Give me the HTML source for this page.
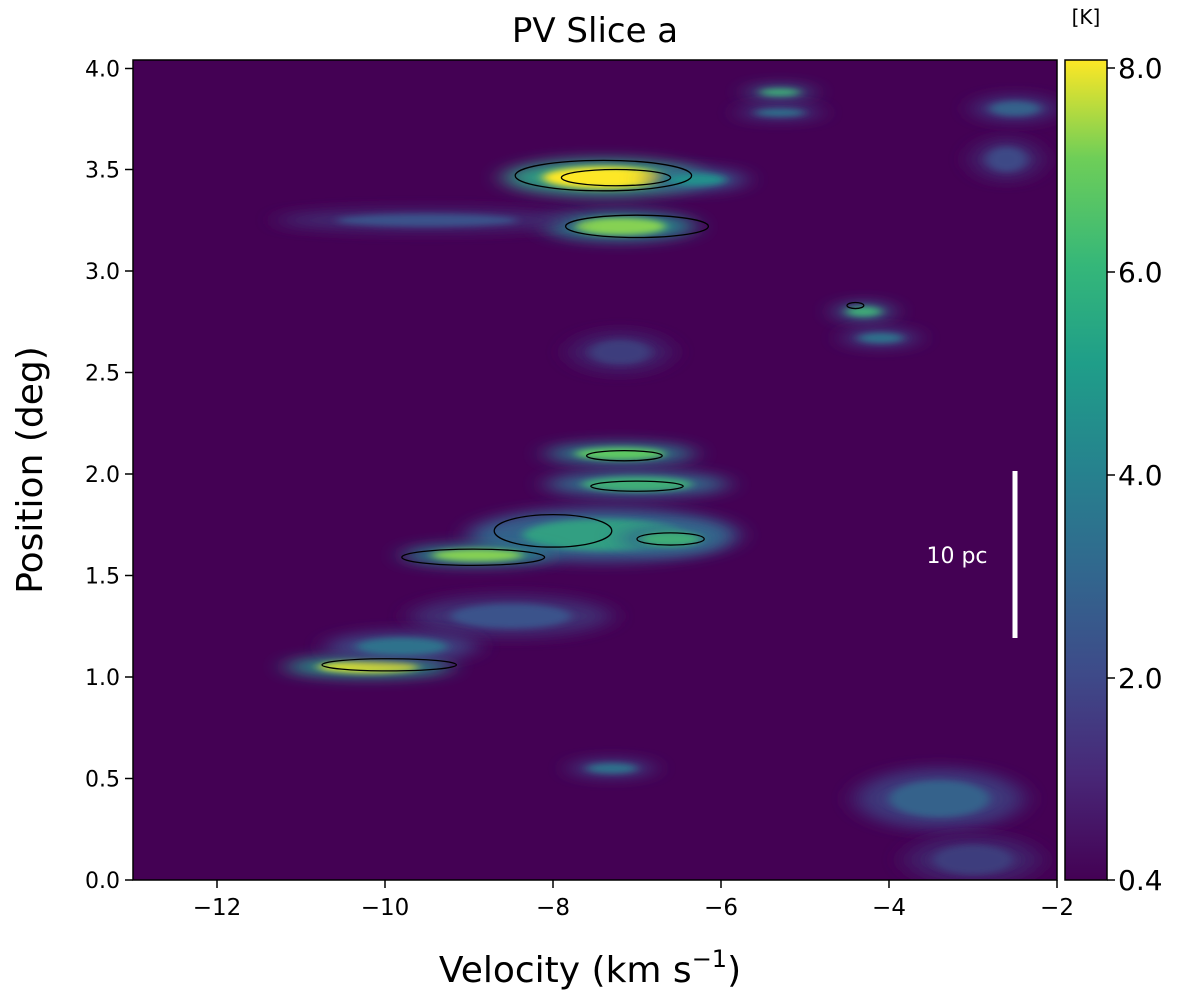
<!DOCTYPE html>
<html><head><meta charset="utf-8"><style>
body{margin:0;background:#fff;}
svg{font-family:"DejaVu Sans","Liberation Sans",sans-serif;}
</style></head><body>
<svg id="chart" width="1200" height="1002" viewBox="0 0 1200 1002">
<defs>
<filter id="blur1" x="-100%" y="-300%" width="300%" height="700%"><feGaussianBlur stdDeviation="12 7"/></filter>
<filter id="blur2" x="-100%" y="-300%" width="300%" height="700%"><feGaussianBlur stdDeviation="5 3"/></filter>
<linearGradient id="viridis" x1="0" y1="1" x2="0" y2="0">
<stop offset="0" stop-color="#440154"/><stop offset="0.13" stop-color="#482878"/>
<stop offset="0.25" stop-color="#3e4a89"/><stop offset="0.38" stop-color="#31688e"/>
<stop offset="0.5" stop-color="#26828e"/><stop offset="0.63" stop-color="#1f9e89"/>
<stop offset="0.75" stop-color="#35b779"/><stop offset="0.88" stop-color="#6ece58"/>
<stop offset="1" stop-color="#fde725"/></linearGradient>
<clipPath id="plotclip"><rect x="133" y="60" width="924" height="820"/></clipPath>
</defs>
<text x="595" y="42" font-size="34" text-anchor="middle">PV Slice a</text>
<rect x="133" y="60" width="924" height="820" fill="#440154"/>
<g id="clouds" clip-path="url(#plotclip)"></g>
<g id="contours" clip-path="url(#plotclip)"></g>
<rect x="133" y="60" width="924" height="820" fill="none" stroke="#000" stroke-width="1.5"/>
<g id="xticks"></g>
<g id="yticks"></g>
<text x="590" y="982" font-size="36" text-anchor="middle">Velocity (km s<tspan dy="-15" font-size="24">−1</tspan><tspan dy="15">)</tspan></text>
<text transform="translate(42,470) rotate(-90)" font-size="36" text-anchor="middle">Position (deg)</text>
<line x1="1015" y1="471" x2="1015" y2="638" stroke="#fff" stroke-width="5"/>
<text x="957" y="563" font-size="22" fill="#fff" text-anchor="middle">10 pc</text>
<rect x="1065" y="60" width="42" height="820" fill="url(#viridis)" stroke="#000" stroke-width="1.5"/>
<text x="1086" y="24" font-size="20" text-anchor="middle">[K]</text>
<g id="cbticks"></g>
</svg>
<script>
const xTicks=[-12,-10,-8,-6,-4,-2];
const yTicks=[0.0,0.5,1.0,1.5,2.0,2.5,3.0,3.5,4.0];
const cbLabels=["8.0","6.0","4.0","2.0","0.4"];
const cbValues=[8,6,4,2,0.4];
// clouds: velocity center, position center, velocity half-width, position half-width, peak K
const cloudV=[-7.4,-7.2,-9.5,-5.3,-5.3,-2.5,-4.3,-4.1,-7.2,-7.2,-7.0,-7.4,-8.9,-6.6,-8.5,-10.2,-9.8,-7.3,-3.4,-3.0,-6.3,-2.6];
const cloudP=[3.46,3.22,3.25,3.88,3.78,3.80,2.80,2.67,2.60,2.10,1.95,1.70,1.60,1.68,1.30,1.05,1.15,0.55,0.40,0.10,3.45,3.55];
const cloudW=[1.2,0.9,1.8,0.4,0.5,0.5,0.35,0.45,0.6,0.9,1.1,1.6,0.9,0.6,1.2,1.0,0.9,0.5,1.0,0.8,0.6,0.4];
const cloudH=[0.09,0.07,0.05,0.03,0.03,0.06,0.04,0.04,0.10,0.05,0.06,0.13,0.05,0.06,0.10,0.05,0.07,0.04,0.15,0.12,0.05,0.1];
const cloudK=[8,6.5,2,5,3,2.5,5,3,1.5,6,5,4.5,6.5,5,2,7.5,3,3,2.5,1.5,4,1.8];
// contours: velocity center, position center, half widths
const ctrV=[-7.4,-7.25,-7.0,-9.95,-8.95,-7.15,-7.0,-6.6,-8.0,-4.4];
const ctrP=[3.47,3.46,3.22,1.06,1.59,2.09,1.94,1.68,1.72,2.83];
const ctrW=[1.05,0.65,0.85,0.8,0.85,0.45,0.55,0.4,0.7,0.1];
const ctrH=[0.075,0.04,0.055,0.03,0.04,0.025,0.025,0.03,0.08,0.015];

const X0=133,X1=1057,VMIN=-13,VMAX=-2,Y0=880,PMIN=0,PPX=203;
const xs=v=>X0+(v-VMIN)/(VMAX-VMIN)*(X1-X0);
const ys=p=>Y0-(p-PMIN)*PPX;
const cbY=[68,272,475,678,880];
function viridis(t){const c=[[68,1,84],[59,82,139],[33,145,140],[94,201,98],[253,231,37]];t=Math.max(0,Math.min(1,t))*4;const i=Math.min(3,Math.floor(t)),f=t-i;const a=c[i],b=c[i+1];return `rgb(${a.map((x,k)=>Math.round(x+(b[k]-x)*f)).join(',')})`;}
const NS="http://www.w3.org/2000/svg";
const mk=(t,at,parent)=>{const e=document.createElementNS(NS,t);for(const k in at)e.setAttribute(k,at[k]);parent.appendChild(e);return e;};
const cg=document.getElementById('clouds');
cloudV.forEach((v,i)=>{
 const k=cloudK[i];
 const outer=mk('ellipse',{cx:xs(v),cy:ys(cloudP[i]),rx:cloudW[i]/(VMAX-VMIN)*924,ry:cloudH[i]*PPX,fill:viridis(k*0.55/8),filter:'url(#blur1)'},cg);
 
 
 const inner=mk('ellipse',{cx:xs(v),cy:ys(cloudP[i]),rx:cloudW[i]*0.6/(VMAX-VMIN)*924,ry:cloudH[i]*0.6*PPX,fill:viridis(k/8),filter:'url(#blur2)'},cg);
 
 
});
const ctg=document.getElementById('contours');
ctrV.forEach((v,i)=>{
 const e=mk('ellipse',{cx:xs(v),cy:ys(ctrP[i]),rx:ctrW[i]/(VMAX-VMIN)*924,ry:ctrH[i]*PPX,fill:'none',stroke:'#000','stroke-width':1.3},ctg);
 
 
});
const xg=document.getElementById('xticks');
xTicks.forEach(t=>{const x=xs(t);
 const l=mk('line',{x1:x,y1:880,x2:x,y2:888,stroke:'#000','stroke-width':1.5},xg);
 
 
 const tx=mk('text',{x:x,y:915,'font-size':23,'text-anchor':'middle'},xg);tx.textContent=(t<0?'−':'')+Math.abs(t);
 
 
});
const yg=document.getElementById('yticks');
yTicks.forEach(t=>{const y=ys(t)+(t===4?0.5:0);
 const l=mk('line',{x1:125,y1:y,x2:133,y2:y,stroke:'#000','stroke-width':1.5},yg);
 
 
 const tx=mk('text',{x:120,y:y+8,'font-size':22,'text-anchor':'end'},yg);tx.textContent=t.toFixed(1);
 
 
});
const cbg=document.getElementById('cbticks');
cbLabels.forEach((s,i)=>{const y=cbY[i];
 const l=mk('line',{x1:1107,y1:y,x2:1115,y2:y,stroke:'#000','stroke-width':1.5},cbg);
 
 
 const tx=mk('text',{x:1118,y:y+10,'font-size':28},cbg);tx.textContent=s;
 
 
});
</script>
</body></html>
